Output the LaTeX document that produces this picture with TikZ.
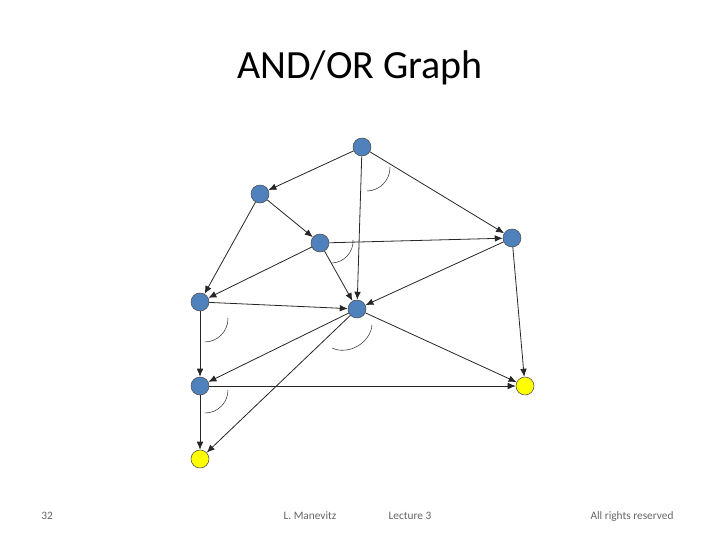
\documentclass[tikz,border=0pt]{standalone}
\usepackage{fontspec}
\setmainfont{Carlito}
\usetikzlibrary{arrows.meta}
\definecolor{nodeblue}{RGB}{79,129,189}
\definecolor{nodeyellow}{RGB}{255,255,0}
\tikzset{
  state/.style={circle, draw=black!70, fill=nodeblue, minimum size=13.5pt, inner sep=0pt},
  goal/.style={state, fill=nodeyellow},
  edge/.style={-{Latex[length=6pt,width=5pt]}, semithick, black!85},
  andarc/.style={thin, black!80},
  foot/.style={text=black!60, anchor=base, font=\fontsize{8.5}{10}\selectfont}
}
\begin{document}
\begin{tikzpicture}[x=0.75pt, y=-0.75pt]

  % Bounding box of the slide
  \useasboundingbox (0,0) rectangle (720,540);

  % Title
  \node (title) at (360,68) {\fontsize{30}{36}\selectfont AND/OR Graph};

  % Nodes
  \node[state] (A) at (362,147) {};
  \node[state] (B) at (260,194) {};
  \node[state] (C) at (320,243) {};
  \node[state] (D) at (512,238) {};
  \node[state] (E) at (200,302) {};
  \node[state] (F) at (357,309) {};
  \node[state] (G) at (200,386) {};
  \node[goal]  (H) at (525,386) {};
  \node[goal]  (I) at (200,459) {};

  % Edges
  \foreach \s/\t in {A/B, A/F, A/D, B/C, B/E, C/D, C/E, C/F, D/F, D/H,
                     E/F, E/G, F/G, F/H, F/I, G/H, G/I} {
    \draw[edge] (\s) -- (\t);
  }

  % AND arcs
  \draw[andarc] (367,191) to[bend right=45] (390,167);
  \draw[andarc] (332,263) to[bend right=45] (353,240);
  \draw[andarc] (205,342) to[bend right=45] (228,318);
  \draw[andarc] (332,348) to[bend right=55] (372,325);
  \draw[andarc] (205,413) to[bend right=45] (228,390);

  % Footer
  \node[foot] (page) at (47,519) {32};
  \node[foot] (auth) at (310,519) {L. Manevitz};
  \node[foot] (lect) at (410,519) {Lecture 3};
  \node[foot] (rights) at (632,519) {All rights reserved};

\end{tikzpicture}
\end{document}
